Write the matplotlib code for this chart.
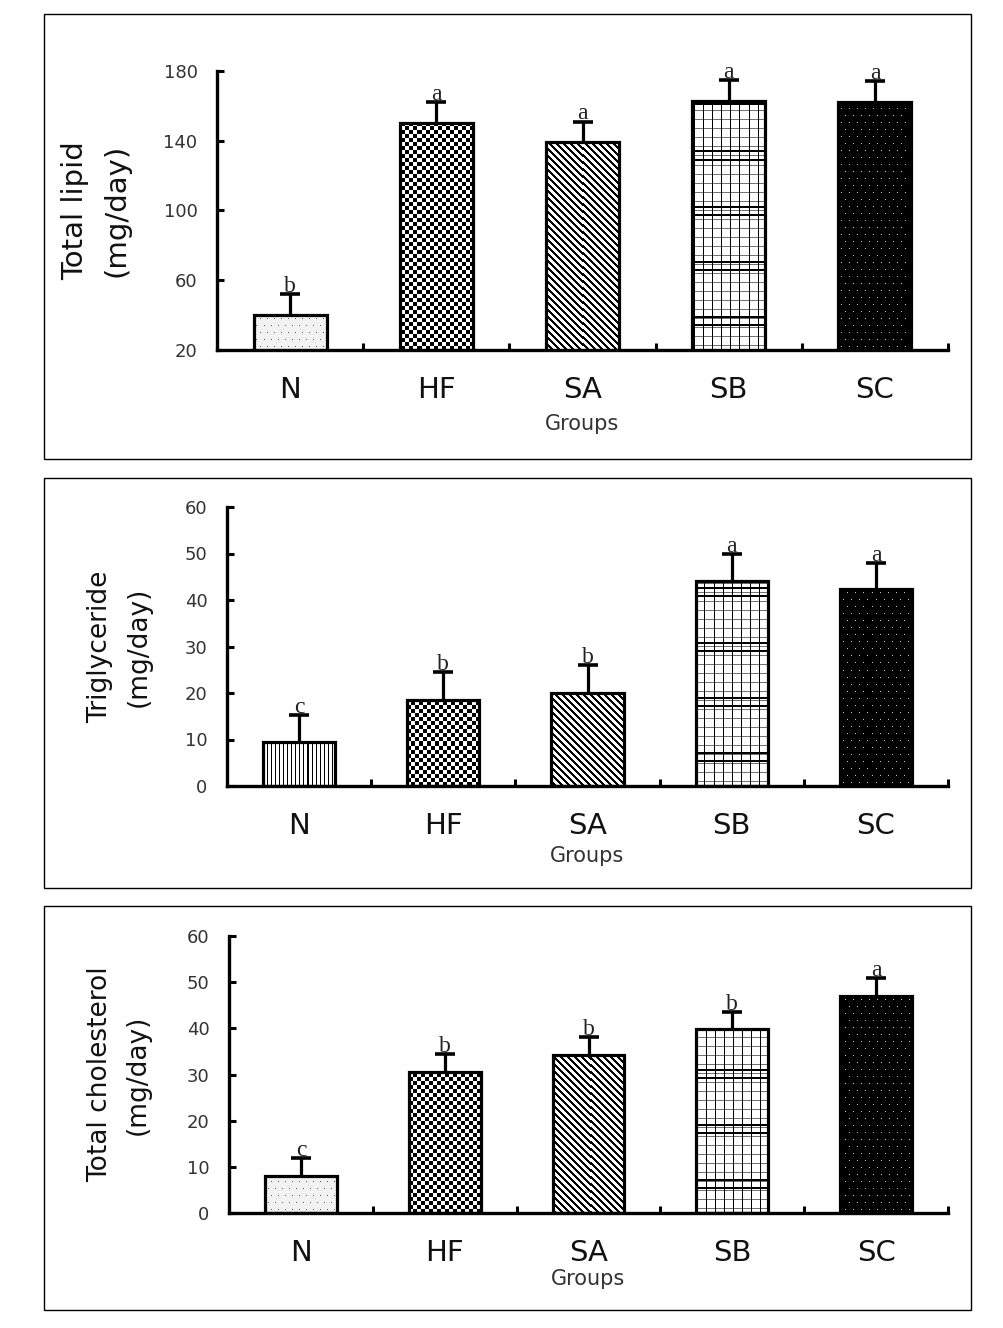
import numpy as np
import matplotlib
matplotlib.use("Agg")
import matplotlib.pyplot as plt
from matplotlib.patches import Rectangle

plt.rcParams['font.family'] = ['DejaVu Sans']

# data
groups = ['N', 'HF', 'SA', 'SB', 'SC']

lipid_mean = [40, 150, 139, 163, 162]
lipid_err = [12, 12, 12, 12, 12]
lipid_letters = ['b', 'a', 'a', 'a', 'a']

tg_mean = [9.5, 18.5, 20, 44, 42.4]
tg_err = [5.8, 6, 6, 5.8, 5.6]
tg_letters = ['c', 'b', 'b', 'a', 'a']

chol_mean = [8, 30.5, 34.2, 39.8, 47]
chol_err = [4, 4, 4, 3.7, 3.9]
chol_letters = ['c', 'b', 'b', 'b', 'a']

W_PX, H_PX = 1004, 1328


def texture(kind, W, H):
    """bitmap fill pattern, one array cell per screen pixel"""
    yy, xx = np.mgrid[0:H, 0:W]
    yb = H - 1 - yy
    img = np.ones((H, W, 3))
    if kind == 'dots_light':
        img[:] = 0.95
        mask = (yb % 7 == 3) & ((xx + (yb // 7 % 2) * 3) % 7 == 0)
        img[mask] = 0.35
    elif kind == 'vlines':
        img[xx % 4 == 0] = 0.0
    elif kind == 'checker':
        img[((xx // 4) + (yb // 4)) % 2 == 0] = 0.0
    elif kind == 'diag':
        img[((xx - yy) % 7) < 3] = 0.0
    elif kind == 'grid':
        img[(yb % 9 == 4)] = 0.45
        img[(xx % 9 == 0)] = 0.0
        thick = ((yb - 24) % 55 < 2) | ((yb - 32) % 55 < 2)
        img[thick] = 0.0
    elif kind == 'dots_dark':
        img[:] = 0.0
        mask = (yb % 7 == 3) & ((xx + (yb // 7 % 2) * 4) % 8 == 0)
        img[mask] = 0.8
    return img


def px_axes(fig, left, top, right, bottom):
    return fig.add_axes([left / W_PX, 1 - bottom / H_PX,
                         (right - left) / W_PX, (bottom - top) / H_PX])


def draw_panel(fig, box, rect, means, errs, letters, ylim, yticks,
               ylabel, ylab_size, ylab_x, groups_y, fills):
    # panel frame
    bx0, by0, bx1, by1 = box
    fig.add_artist(Rectangle((bx0 / W_PX, 1 - by1 / H_PX),
                             (bx1 - bx0) / W_PX, (by1 - by0) / H_PX,
                             transform=fig.transFigure, fill=False,
                             edgecolor='black', linewidth=1.0))

    ax = px_axes(fig, *rect)
    x = np.arange(1, len(groups) + 1)
    xlim = (0.5, len(groups) + 0.5)

    bars = ax.bar(x, means, width=0.5, bottom=0, facecolor='none',
                  edgecolor='black', linewidth=2.3, zorder=3)

    bbox = ax.get_window_extent()
    W, H = int(round(bbox.width)), int(round(bbox.height))
    for bar, kind in zip(bars, fills):
        im = ax.imshow(texture(kind, W, H),
                       extent=(xlim[0], xlim[1], ylim[0], ylim[1]),
                       origin='upper', interpolation='nearest',
                       aspect='auto', zorder=2)
        im.set_clip_path(bar)

    # upper error only: hide the cap that sits on the bar top
    _, caps, _ = ax.errorbar(x, means, yerr=[np.zeros(len(means)), errs],
                             fmt='none', ecolor='black', elinewidth=2.3,
                             capsize=7, capthick=2.6, zorder=4)
    for cap in caps:
        if np.allclose(cap.get_ydata(), means):
            cap.set_visible(False)

    for xi, m, e, lab in zip(x, means, errs, letters):
        ax.annotate(lab, (xi, m + e), xytext=(0, 1.5),
                    textcoords='offset points', ha='center', va='baseline',
                    fontsize=17, family='Liberation Serif', color='#222222',
                    zorder=5)

    ax.set_xlim(*xlim)
    ax.set_ylim(*ylim)
    ax.set_yticks(yticks)
    ax.set_xticks(x)
    ax.set_xticklabels(groups)
    ax.set_xticks(x + 0.5, minor=True)

    for s in ['top', 'right']:
        ax.spines[s].set_visible(False)
    for s in ['left', 'bottom']:
        ax.spines[s].set_linewidth(2.4)

    ax.tick_params(axis='y', direction='in', length=5, width=2.2,
                   pad=14, labelsize=13, labelcolor='#333333')
    ax.tick_params(axis='x', which='major', length=0, pad=19,
                   labelsize=21, labelcolor='#111111')
    ax.tick_params(axis='x', which='minor', direction='in', length=5,
                   width=2.2)

    ax.text(ylab_x, 0.5, ylabel, transform=ax.transAxes, rotation=90,
            ha='center', va='center', multialignment='center',
            fontsize=ylab_size, linespacing=1.6, color='#111111')
    ax.text(0.5, groups_y, 'Groups', transform=ax.transAxes,
            ha='center', va='center', fontsize=15, color='#333333')
    return ax


fig = plt.figure(figsize=(W_PX / 100, H_PX / 100), dpi=100)

draw_panel(fig, (44, 14, 971, 459), (217, 71, 948, 350),
           lipid_mean, lipid_err, lipid_letters, (20, 180),
           [20, 60, 100, 140, 180], 'Total lipid\n(mg/day)', 21, -0.166,
           -0.265, ['dots_light', 'checker', 'diag', 'grid', 'dots_dark'])

draw_panel(fig, (44, 478, 971, 888), (227, 507, 948, 786),
           tg_mean, tg_err, tg_letters, (0, 60),
           [0, 10, 20, 30, 40, 50, 60], 'Triglyceride\n(mg/day)', 19, -0.149,
           -0.251, ['vlines', 'checker', 'diag', 'grid', 'dots_dark'])

draw_panel(fig, (44, 906, 971, 1310), (229, 936, 948, 1213),
           chol_mean, chol_err, chol_letters, (0, 60),
           [0, 10, 20, 30, 40, 50, 60], 'Total cholesterol\n(mg/day)', 19,
           -0.153, -0.238,
           ['dots_light', 'checker', 'diag', 'grid', 'dots_dark'])

fig.savefig('out.png', dpi=100)
